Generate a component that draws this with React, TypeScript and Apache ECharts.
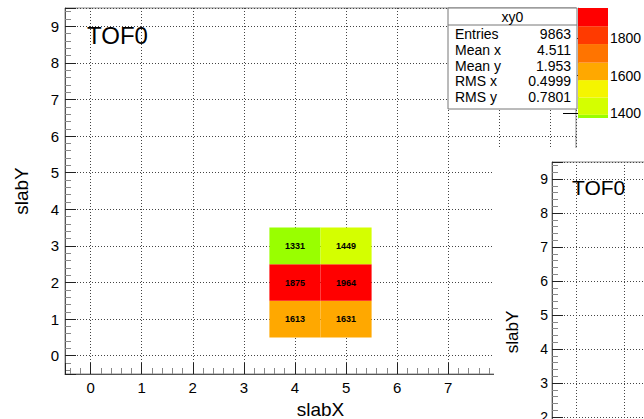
import React, { useEffect, useRef } from 'react';
import * as echarts from 'echarts';

// ---- data ----
const xBins = [4, 5];
const yBins = [1, 2, 3];
// rows follow yBins, columns follow xBins
const counts = [
  [1613, 1631],
  [1875, 1964],
  [1331, 1449],
];
const axisMin = -0.5;
const axisMax = 9.5;
const xTickLabels = ['0', '1', '2', '3', '4', '5', '6', '7'];
const paletteEdges = [1331, 1389, 1482, 1576, 1670, 1770, 1866, 1964];
const paletteColors = ['#99ff00', '#d4ff00', '#f5f500', '#ffa800', '#ff7400', '#ff3a00', '#ff0000'];
const paletteTicks = [1400, 1600, 1800];
const paletteVisibleMin = 1372;
const statsTitle = 'xy0';
const statsRows = [
  ['Entries', '9863'],
  ['Mean x', '4.511'],
  ['Mean y', '1.953'],
  ['RMS x', '0.4999'],
  ['RMS y', '0.7801'],
];
const histTitle = 'TOF0';
const xTitle = 'slabX';
const yTitle = 'slabY';

const FONT = '"Liberation Sans", Arial, sans-serif';

const dotted = { show: true, lineStyle: { color: '#444', width: 1, type: [1, 2] as any } };

function axisBase(extra: any) {
  return {
    type: 'value',
    min: axisMin,
    max: axisMax,
    splitNumber: 10,
    axisLine: { show: true, onZero: false, lineStyle: { color: '#555', width: 1 } },
    axisTick: { show: true, inside: true, length: 11, lineStyle: { color: '#222', width: 1 } },
    minorTick: { show: true, splitNumber: 5, length: 6, lineStyle: { color: '#888', width: 1 } },
    splitLine: dotted,
    minorSplitLine: { show: false },
    ...extra,
  };
}

export default function App() {
  const ref = useRef<HTMLDivElement>(null);
  useEffect(() => {
    document.body.style.margin = '0';
    const chart = echarts.init(ref.current!, undefined, { renderer: 'svg' });

    const cells: number[][] = [];
    yBins.forEach((y, yi) => {
      xBins.forEach((x, xi) => {
        cells.push([x, y, counts[yi][xi]]);
      });
    });
    const bands = paletteColors.map((c, i) => [i, paletteEdges[i], paletteEdges[i + 1]]);
    const last = paletteColors.length - 1;

    const option: any = {
      animation: false,
      backgroundColor: '#fff',
      textStyle: { fontFamily: FONT },
      grid: [
        { left: 65, top: 8, width: 511, height: 366, show: true, borderColor: '#888', borderWidth: 1, backgroundColor: 'transparent', outerBoundsMode: 'none', containLabel: false },
        { left: 552, top: 162, width: 480, height: 340, show: true, borderColor: '#888', borderWidth: 1, backgroundColor: 'transparent', z: 20, outerBoundsMode: 'none', containLabel: false },
        { left: 578, top: 8, width: 30, height: 110, show: false, outerBoundsMode: 'none', containLabel: false },
      ],
      xAxis: [
        axisBase({
          gridIndex: 0,
          axisLabel: {
            color: '#000', fontSize: 15, fontFamily: FONT, margin: 6,
            showMinLabel: false, showMaxLabel: false,
            formatter: (v: number) => (xTickLabels.includes(String(v)) ? String(v) : ''),
          },
          name: xTitle, nameLocation: 'middle', nameGap: 23,
          nameTextStyle: { color: '#000', fontSize: 19, fontFamily: FONT },
        }),
        axisBase({
          gridIndex: 1, z: 20,
          axisLabel: { show: false },
        }),
        { type: 'value', gridIndex: 2, min: 0, max: 1, show: false },
      ],
      yAxis: [
        axisBase({
          gridIndex: 0,
          axisLabel: { color: '#000', fontSize: 15, fontFamily: FONT, margin: 6, showMinLabel: false, showMaxLabel: false },
          name: yTitle, nameLocation: 'middle', nameGap: 34,
          nameTextStyle: { color: '#000', fontSize: 19, fontFamily: FONT },
        }),
        axisBase({
          gridIndex: 1, z: 20,
          axisLabel: { color: '#000', fontSize: 14, fontFamily: FONT, margin: 4, showMinLabel: false, showMaxLabel: false },
          name: yTitle, nameLocation: 'middle', nameGap: 31,
          nameTextStyle: { color: '#000', fontSize: 17, fontFamily: FONT },
        }),
        {
          type: 'value', gridIndex: 2, position: 'right',
          min: paletteVisibleMin, max: paletteEdges[paletteEdges.length - 1],
          axisLine: { show: true, lineStyle: { color: '#999', width: 1 } },
          axisTick: { show: true, inside: true, length: 15, customValues: paletteTicks, lineStyle: { color: '#000', width: 1 } },
          axisLabel: { show: true, customValues: paletteTicks, color: '#000', fontSize: 14, fontFamily: FONT, margin: 2, formatter: (v: number) => String(v) },
          splitLine: { show: false },
        },
      ],
      visualMap: [
        {
          type: 'piecewise', show: false, seriesIndex: 0, dimension: 2,
          pieces: paletteColors.map((c, i) =>
            i === last
              ? { gte: paletteEdges[i], lte: paletteEdges[i + 1], color: c }
              : { gte: i === 0 ? 0 : paletteEdges[i], lt: paletteEdges[i + 1], color: c }
          ),
        },
      ],
      series: [
        {
          type: 'custom', xAxisIndex: 0, yAxisIndex: 0, z: 2,
          data: cells,
          renderItem: (params: any, api: any) => {
            const x = api.value(0);
            const y = api.value(1);
            const p1 = api.coord([x - 0.5, y + 0.5]);
            const p2 = api.coord([x + 0.5, y - 0.5]);
            return {
              type: 'group',
              children: [
                { type: 'rect', shape: { x: p1[0], y: p1[1], width: p2[0] - p1[0], height: p2[1] - p1[1] }, style: { fill: api.visual('color') } },
                {
                  type: 'text',
                  style: {
                    text: String(api.value(2)), x: (p1[0] + p2[0]) / 2, y: (p1[1] + p2[1]) / 2,
                    align: 'center', verticalAlign: 'middle', fill: '#000',
                    font: 'bold 9px ' + FONT,
                  },
                },
              ],
            };
          },
        },
        {
          type: 'custom', xAxisIndex: 2, yAxisIndex: 2, clip: true,
          data: bands,
          renderItem: (params: any, api: any) => {
            const i = api.value(0);
            const p1 = api.coord([0, api.value(2)]);
            const p2 = api.coord([1, api.value(1)]);
            return { type: 'rect', shape: { x: p1[0], y: p1[1], width: p2[0] - p1[0], height: p2[1] - p1[1] }, style: { fill: paletteColors[i] } };
          },
        },
      ],
      graphic: [
        { type: 'rect', z: 10, shape: { x: 494, y: 148, width: 150, height: 271 }, style: { fill: '#fff' } },
        { type: 'text', z: 5, x: 87, y: 35, style: { text: histTitle, font: '24px ' + FONT, fill: '#000', verticalAlign: 'middle' } },
        { type: 'text', z: 25, x: 572, y: 187, style: { text: histTitle, font: '21px ' + FONT, fill: '#000', verticalAlign: 'middle' } },
        {
          type: 'group', x: 448, y: 8, z: 100,
          children: [
            { type: 'rect', z: 100, shape: { x: 0, y: 0, width: 129, height: 101 }, style: { fill: '#fff', stroke: '#777', lineWidth: 1 } },
            { type: 'line', z: 101, shape: { x1: 0, y1: 17, x2: 129, y2: 17 }, style: { stroke: '#777', lineWidth: 1 } },
            { type: 'text', z: 101, x: 64.5, y: 8.5, style: { text: statsTitle, font: '14px ' + FONT, fill: '#000', align: 'center', verticalAlign: 'middle' } },
            ...statsRows.flatMap((r, i) => [
              { type: 'text', z: 101, x: 7, y: 26 + i * 15.8, style: { text: r[0], font: '14px ' + FONT, fill: '#000', align: 'left', verticalAlign: 'middle' } },
              { type: 'text', z: 101, x: 123, y: 26 + i * 15.8, style: { text: r[1], font: '14px ' + FONT, fill: '#000', align: 'right', verticalAlign: 'middle' } },
            ]),
          ],
        },
      ],
    };
    chart.setOption(option);
    return () => chart.dispose();
  }, []);
  return <div ref={ref} style={{ width: 644, height: 419 }} />;
}
